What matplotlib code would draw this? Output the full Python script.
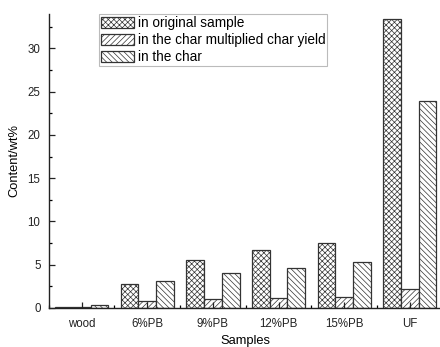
import numpy as np
import matplotlib.pyplot as plt

plt.rcParams['font.family'] = ['Liberation Sans', 'DejaVu Sans']
plt.rcParams['hatch.linewidth'] = 0.5
plt.rcParams['hatch.color'] = '#6a6a6a'

samples = ['wood', '6%PB', '9%PB', '12%PB', '15%PB', 'UF']
original = [0.12, 2.75, 5.5, 6.65, 7.5, 33.4]
char_multiplied = [0.05, 0.8, 0.97, 1.15, 1.25, 2.2]
in_char = [0.38, 3.13, 4.0, 4.65, 5.35, 23.95]

series_labels = ['in original sample', 'in the char multiplied char yield', 'in the char']
hatches = ['xxxxxx', '//////', '\\\\\\\\\\\\']

x = np.arange(len(samples))
w = 0.27

fig = plt.figure(figsize=(4.4, 3.47), dpi=100)
ax = fig.add_axes([0.111, 0.113, 0.895, 0.847])

for i, vals in enumerate([original, char_multiplied, in_char]):
    ax.bar(x + (i - 1) * w, vals, w, color='white', edgecolor='#333333',
           linewidth=0.9, hatch=hatches[i], label=series_labels[i])

ax.set_xlim(-0.5, 5.47)
ax.set_ylim(0, 34)
ax.set_xticks(x)
ax.set_xticklabels(samples)
ax.set_xticks(np.arange(-0.5, 6, 1), minor=True)
ax.set_yticks(np.arange(0, 31, 5))
ax.set_yticks(np.arange(2.5, 34, 5), minor=True)

ax.tick_params(axis='both', which='major', direction='in', length=4, width=0.9,
               labelsize=8.3, colors='#222222')
ax.tick_params(axis='both', which='minor', direction='in', length=2.5, width=0.9)
ax.tick_params(axis='x', which='major', pad=7)
ax.tick_params(axis='y', which='major', pad=6)

for s in ['top', 'right']:
    ax.spines[s].set_visible(False)
for s in ['left', 'bottom']:
    ax.spines[s].set_linewidth(1.0)
    ax.spines[s].set_color('#222222')

ax.set_xlabel('Samples', fontsize=9.3, labelpad=4)
ax.set_ylabel('Content/wt%', fontsize=9.3, labelpad=5)

leg = ax.legend(loc='upper left', bbox_to_anchor=(0.127, 1.0), fontsize=9.8,
                frameon=True, fancybox=False, edgecolor='#aaaaaa',
                handlelength=2.4, handleheight=0.9, borderpad=0.15,
                labelspacing=0.22, handletextpad=0.3, borderaxespad=0)
leg.get_frame().set_linewidth(0.8)

fig.savefig('out.png', dpi=100)
